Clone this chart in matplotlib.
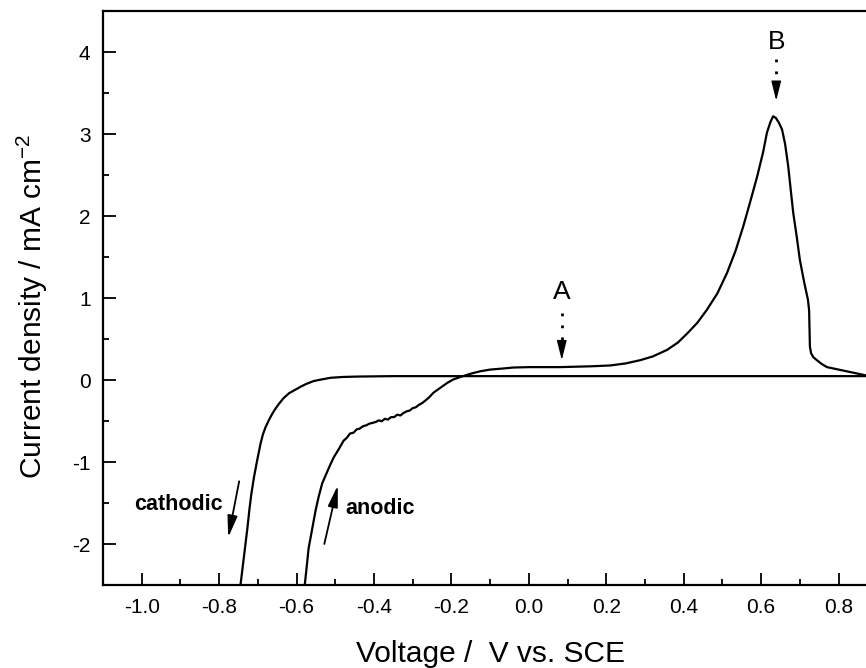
import numpy as np
import matplotlib.pyplot as plt

plt.rcParams['font.family'] = ['Liberation Sans', 'DejaVu Sans']
plt.rcParams['mathtext.fontset'] = 'custom'
plt.rcParams['mathtext.rm'] = 'Liberation Sans'

# povratni (katodni) sken: od desnog kraja nazad do -0.745 V
cat_v = [0.87, 0.60, 0.30, 0.00, -0.20, -0.35, -0.44, -0.48, -0.512, -0.535, -0.556,
         -0.575, -0.59, -0.605, -0.62, -0.634, -0.646, -0.655, -0.663, -0.672,
         -0.680, -0.687, -0.693, -0.702, -0.710, -0.717, -0.722, -0.727, -0.736, -0.745]
cat_j = [0.05, 0.05, 0.05, 0.05, 0.05, 0.05, 0.045, 0.04, 0.03, 0.01, -0.01,
         -0.045, -0.08, -0.12, -0.16, -0.22, -0.29, -0.35, -0.41, -0.49,
         -0.57, -0.66, -0.77, -0.98, -1.18, -1.39, -1.58, -1.80, -2.15, -2.5]

# anodni sken: od -0.579 V do desnog kraja (sa sumom na platou)
an_v = [-0.579, -0.574, -0.569, -0.560, -0.551, -0.543, -0.534, -0.525, -0.512,
        -0.504, -0.491, -0.479, -0.470, -0.462, -0.453, -0.445, -0.437, -0.428,
        -0.420, -0.412, -0.404, -0.396, -0.388, -0.380, -0.372, -0.364, -0.356,
        -0.348, -0.340, -0.332, -0.324, -0.316, -0.308, -0.300, -0.292, -0.284,
        -0.276, -0.268, -0.258, -0.246, -0.228, -0.210, -0.195, -0.177, -0.150,
        -0.125, -0.100, -0.074, -0.04, 0.00, 0.04, 0.08,
        0.12, 0.16, 0.21, 0.25, 0.288, 0.32, 0.357, 0.385, 0.409, 0.435, 0.46,
        0.487, 0.512, 0.534, 0.554, 0.572, 0.59, 0.605, 0.615, 0.624, 0.631,
        0.638, 0.646, 0.654, 0.662, 0.670, 0.677, 0.683, 0.692, 0.700, 0.711,
        0.721, 0.724, 0.726, 0.729, 0.735, 0.744, 0.756, 0.770, 0.800, 0.830,
        0.850, 0.870]
an_j = [-2.5, -2.28, -2.05, -1.82, -1.59, -1.42, -1.26, -1.16, -1.02,
        -0.94, -0.84, -0.74, -0.70, -0.65, -0.64, -0.60, -0.59, -0.56,
        -0.55, -0.53, -0.52, -0.51, -0.49, -0.50, -0.47, -0.48, -0.45,
        -0.45, -0.42, -0.43, -0.40, -0.38, -0.37, -0.34, -0.33, -0.30,
        -0.28, -0.25, -0.21, -0.15, -0.09, -0.03, 0.01, 0.04, 0.08,
        0.11, 0.13, 0.14, 0.155, 0.16, 0.16, 0.16,
        0.165, 0.17, 0.18, 0.205, 0.245, 0.29, 0.37, 0.46, 0.57, 0.70, 0.86,
        1.06, 1.31, 1.58, 1.88, 2.18, 2.49, 2.78, 3.02, 3.15, 3.22,
        3.20, 3.14, 3.06, 2.88, 2.61, 2.30, 2.04, 1.75, 1.47, 1.20,
        0.98, 0.85, 0.41, 0.33, 0.28, 0.245, 0.20, 0.16, 0.13, 0.10,
        0.08, 0.06]

fig = plt.figure(figsize=(8.66, 6.68), dpi=100)
ax = fig.add_axes([0.119, 0.124, 0.894, 0.859])

ax.plot(cat_v, cat_j, color='black', lw=1.6)
ax.plot(an_v, an_j, color='black', lw=1.6)

ax.set_xlim(-1.1, 0.9)
ax.set_ylim(-2.5, 4.5)
ax.set_xticks(np.arange(-1.0, 0.81, 0.2))
ax.set_xticklabels(['-1.0', '-0.8', '-0.6', '-0.4', '-0.2', '0.0', '0.2', '0.4', '0.6', '0.8'])
ax.set_yticks([-2, -1, 0, 1, 2, 3, 4])
ax.set_yticklabels(['-2', '-1', '0', '1', '2', '3', '4'])
ax.set_xticks(np.arange(-1.1, 0.91, 0.1), minor=True)
ax.set_yticks(np.arange(-2.5, 4.51, 0.5), minor=True)
ax.tick_params(which='major', direction='in', length=9, width=1.3, labelsize=15, pad=9)
ax.tick_params(which='minor', direction='in', length=4.5, width=1.3)
for s in ax.spines.values():
    s.set_linewidth(1.6)

ax.set_xlabel('Voltage /  V vs. SCE', fontsize=21.5, labelpad=17)
ax.set_ylabel('Current density / mA cm$^{-2}$', fontsize=21.5, labelpad=16)
ax.yaxis.label.set_y(0.486)

# oznake A i B: tackasta linija + puna glava strelice
glava = dict(arrowstyle='-|>,head_length=1.2,head_width=0.3', color='black',
             lw=1, shrinkA=0, shrinkB=0)
ax.text(0.085, 0.99, 'A', fontsize=19, ha='center', va='baseline')
ax.plot([0.085, 0.085], [0.82, 0.45], color='black', lw=2, ls=(0, (1, 3.3)))
ax.annotate('', xy=(0.085, 0.245), xytext=(0.085, 0.46), arrowprops=glava)
ax.text(0.639, 4.04, 'B', fontsize=19, ha='center', va='baseline')
ax.plot([0.639, 0.639], [3.92, 3.62], color='black', lw=2, ls=(0, (1, 3.3)))
ax.annotate('', xy=(0.639, 3.41), xytext=(0.639, 3.63), arrowprops=glava)

# smer skeniranja
ax.text(-0.905, -1.52, 'cathodic', fontsize=15.5, fontweight='bold', ha='center', va='center')
ax.annotate('', xy=(-0.778, -1.95), xytext=(-0.747, -1.2),
            arrowprops=dict(arrowstyle='-|>,head_length=1.3,head_width=0.3', color='black', lw=1.3))
ax.text(-0.383, -1.57, 'anodic', fontsize=15.5, fontweight='bold', ha='center', va='center')
ax.annotate('', xy=(-0.492, -1.25), xytext=(-0.53, -2.03),
            arrowprops=dict(arrowstyle='-|>,head_length=1.3,head_width=0.3', color='black', lw=1.3))

plt.savefig('out.png', dpi=100)
